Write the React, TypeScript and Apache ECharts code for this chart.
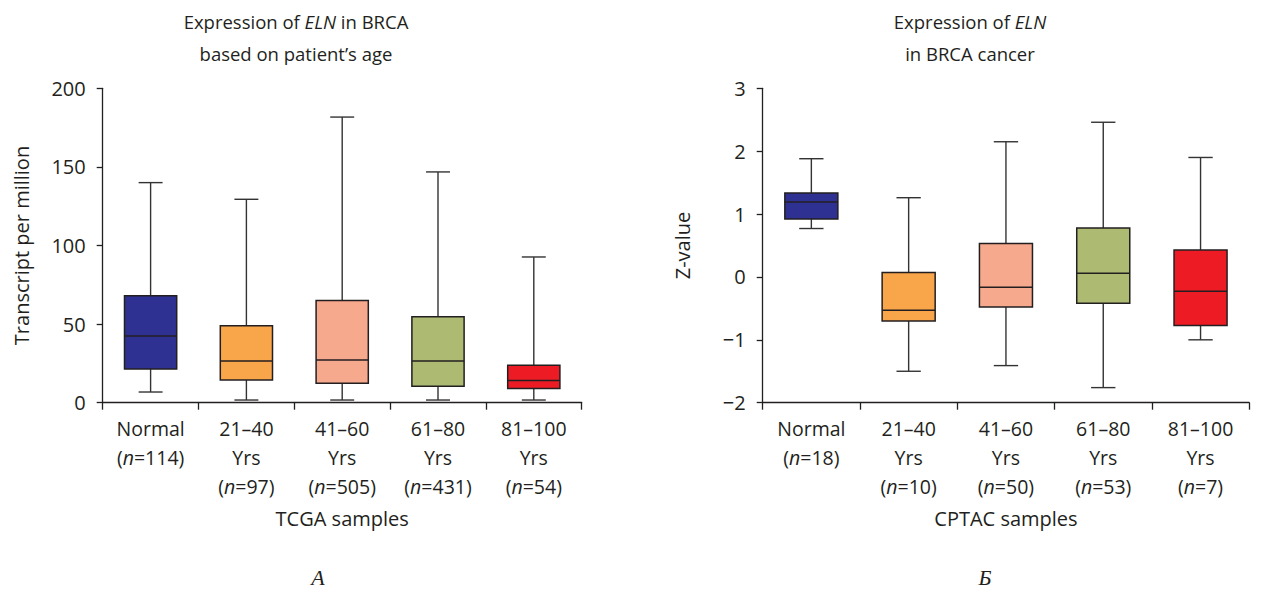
import React, { useEffect, useRef } from "react";
import * as echarts from "echarts";

// ---- Data ----
const leftCategories = ["Normal", "21–40", "41–60", "61–80", "81–100"];
const leftN = [114, 97, 505, 431, 54];
// [min, Q1, median, Q3, max]
const leftStats = [
  [6.8, 21.4, 42.4, 68.0, 140.0],
  [1.7, 14.4, 26.5, 49.0, 129.4],
  [1.7, 12.3, 27.2, 65.0, 181.7],
  [1.7, 10.4, 26.5, 54.7, 146.8],
  [1.7, 9.1, 14.2, 23.8, 92.7],
];

const rightCategories = ["Normal", "21–40", "41–60", "61–80", "81–100"];
const rightN = [18, 10, 50, 53, 7];
const rightStats = [
  [0.77, 0.92, 1.19, 1.335, 1.88],
  [-1.5, -0.7, -0.53, 0.07, 1.26],
  [-1.41, -0.477, -0.165, 0.53, 2.15],
  [-1.76, -0.42, 0.058, 0.78, 2.46],
  [-1.0, -0.774, -0.227, 0.43, 1.9],
];

const leftYTicks = { min: 0, max: 200, interval: 50 };
const rightYTicks = { min: -2, max: 3, interval: 1 };

const boxColors = ["#2E3192", "#F9A54A", "#F7A98E", "#ADBB72", "#ED1C24"];

const FONT = "'Open Sans', 'Noto Sans', sans-serif";
const INK = "#231F20";

function makeLabelFormatter(n: number[]) {
  return (value: string, index: number) => {
    if (index === 0) return `{a|${value}}\n{a|(}{i|n}{a|=${n[index]})}`;
    return `{a|${value}}\n{a|Yrs}\n{a|(}{i|n}{a|=${n[index]})}`;
  };
}

const labelRich = {
  a: { fontFamily: FONT, fontSize: 19.5, lineHeight: 29, color: INK },
  i: { fontFamily: FONT, fontSize: 19.5, lineHeight: 29, color: INK, fontStyle: "italic" },
};

function boxRenderItem(params: any, api: any) {
  const x = api.value(0);
  const vals = [api.value(1), api.value(2), api.value(3), api.value(4), api.value(5)];
  const pts = vals.map((v) => api.coord([x, v]));
  const bandW = api.size([1, 0])[0];
  const bw = bandW * 0.545;
  const capW = bandW * 0.25;
  const cx = pts[0][0];
  const color = boxColors[params.dataIndex % boxColors.length];
  const lineStyle = { stroke: "#333333", lineWidth: 1.4 };
  const boxStyle = { stroke: INK, lineWidth: 1.5 };
  return {
    type: "group",
    children: [
      { type: "line", shape: { x1: cx, y1: pts[4][1], x2: cx, y2: pts[3][1] }, style: lineStyle },
      { type: "line", shape: { x1: cx, y1: pts[1][1], x2: cx, y2: pts[0][1] }, style: lineStyle },
      { type: "line", shape: { x1: cx - capW / 2, y1: pts[4][1], x2: cx + capW / 2, y2: pts[4][1] }, style: lineStyle },
      { type: "line", shape: { x1: cx - capW / 2, y1: pts[0][1], x2: cx + capW / 2, y2: pts[0][1] }, style: lineStyle },
      {
        type: "rect",
        shape: { x: cx - bw / 2, y: pts[3][1], width: bw, height: pts[1][1] - pts[3][1] },
        style: { fill: color, ...boxStyle },
      },
      { type: "line", shape: { x1: cx - bw / 2, y1: pts[2][1], x2: cx + bw / 2, y2: pts[2][1] }, style: boxStyle },
    ],
  };
}

function buildOption() {
  const axisLine = { show: true, onZero: false, lineStyle: { color: INK, width: 1.3 } };
  const axisTick = { show: true, length: 7, lineStyle: { color: INK, width: 1.3 } };
  const yLabel = { fontFamily: FONT, fontSize: 20, color: INK, margin: 17 };

  const title = (x: number, y: number, lines: string[]) => ({
    type: "text",
    x,
    y,
    style: {
      text: lines.join("\n"),
      align: "center",
      verticalAlign: "top",
      rich: {
        a: { fontFamily: FONT, fontSize: 18.5, lineHeight: 32, fill: INK },
        i: { fontFamily: FONT, fontSize: 18.5, lineHeight: 32, fill: INK, fontStyle: "italic" },
      },
    },
  });

  return {
    animation: false,
    backgroundColor: "#ffffff",
    grid: [
      { left: 102.7, top: 88.3, width: 479, height: 314.4 },
      { left: 762.7, top: 88.3, width: 486.5, height: 314.4 },
    ],
    xAxis: [
      {
        type: "category",
        gridIndex: 0,
        data: leftCategories,
        boundaryGap: true,
        axisLine,
        axisTick: { ...axisTick, interval: 0 },
        axisLabel: { interval: 0, margin: 11, formatter: makeLabelFormatter(leftN), rich: labelRich },
        name: "TCGA samples",
        nameLocation: "middle",
        nameGap: 106,
        nameTextStyle: { fontFamily: FONT, fontSize: 20, color: INK },
      },
      {
        type: "category",
        gridIndex: 1,
        data: rightCategories,
        boundaryGap: true,
        axisLine,
        axisTick: { ...axisTick, interval: 0 },
        axisLabel: { interval: 0, margin: 11, formatter: makeLabelFormatter(rightN), rich: labelRich },
        name: "CPTAC samples",
        nameLocation: "middle",
        nameGap: 106,
        nameTextStyle: { fontFamily: FONT, fontSize: 20, color: INK },
      },
    ],
    yAxis: [
      {
        type: "value",
        gridIndex: 0,
        min: leftYTicks.min,
        max: leftYTicks.max,
        interval: leftYTicks.interval,
        splitLine: { show: false },
        axisLine,
        axisTick: { ...axisTick, length: 6 },
        axisLabel: yLabel,
        name: "Transcript per million",
        nameLocation: "middle",
        nameGap: 71,
        nameTextStyle: { fontFamily: FONT, fontSize: 20, color: INK },
      },
      {
        type: "value",
        gridIndex: 1,
        min: rightYTicks.min,
        max: rightYTicks.max,
        interval: rightYTicks.interval,
        splitLine: { show: false },
        axisLine,
        axisTick: { ...axisTick, length: 6 },
        axisLabel: { ...yLabel, formatter: (v: number) => String(v).replace("-", "−") },
        name: "Z-value",
        nameLocation: "middle",
        nameGap: 70,
        nameTextStyle: { fontFamily: FONT, fontSize: 20, color: INK },
      },
    ],
    series: [
      {
        type: "custom",
        xAxisIndex: 0,
        yAxisIndex: 0,
        renderItem: boxRenderItem,
        encode: { x: 0, y: [1, 2, 3, 4, 5] },
        data: leftStats.map((s, i) => [i, ...s]),
      },
      {
        type: "custom",
        xAxisIndex: 1,
        yAxisIndex: 1,
        renderItem: boxRenderItem,
        encode: { x: 0, y: [1, 2, 3, 4, 5] },
        data: rightStats.map((s, i) => [i, ...s]),
      },
    ],
    graphic: [
      title(296, 5, ["{a|Expression of }{i|ELN}{a| in BRCA}", "{a|based on patient’s age}"]),
      title(970, 5, ["{a|Expression of }{i|ELN}", "{a|in BRCA cancer}"]),
      {
        type: "text",
        x: 318,
        y: 577,
        style: {
          text: "А",
          align: "center",
          verticalAlign: "middle",
          font: "italic 22px 'Liberation Serif', 'DejaVu Serif', serif",
          fill: INK,
        },
      },
      {
        type: "text",
        x: 985,
        y: 577,
        style: {
          text: "Б",
          align: "center",
          verticalAlign: "middle",
          font: "italic 22px 'Liberation Serif', 'DejaVu Serif', serif",
          fill: INK,
        },
      },
    ],
  };
}

export default function App() {
  const ref = useRef<HTMLDivElement>(null);
  useEffect(() => {
    if (!ref.current) return;
    const chart = echarts.init(ref.current, undefined, { renderer: "svg" });
    chart.setOption(buildOption() as any);
    return () => chart.dispose();
  }, []);
  return (
    <div
      ref={ref}
      style={{ position: "absolute", left: 0, top: 0, width: 1271, height: 589, background: "#fff" }}
    />
  );
}
